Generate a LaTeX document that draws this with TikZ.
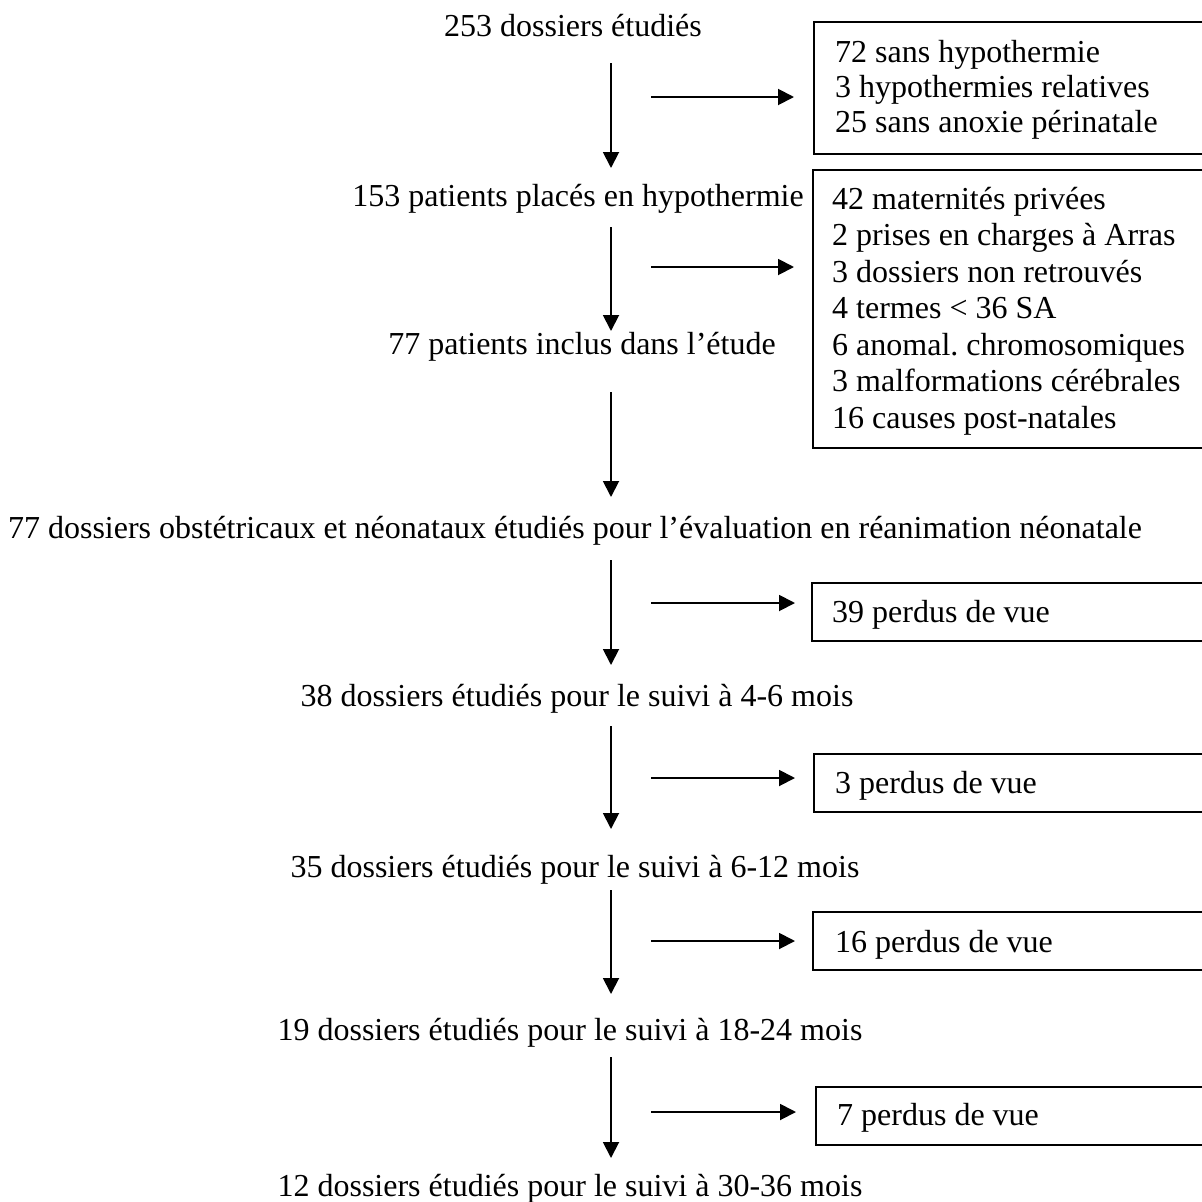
\documentclass[tikz,border=0pt]{standalone}
\usepackage{fontspec}
\setmainfont{Liberation Serif}
\usetikzlibrary{arrows.meta}
\begin{document}
\frenchspacing
\begin{tikzpicture}[x=1pt,y=-1pt,
  txt/.style={inner sep=0pt, anchor=base, font=\fontsize{32}{36.5}\selectfont},
  btxt/.style={inner sep=0pt, anchor=base west, font=\fontsize{32}{36.5}\selectfont},
  box/.style={draw, line width=1.9pt, anchor=north west, inner sep=0pt, minimum width=420pt},
  arr/.style={line width=1.9pt, -{Triangle[length=16pt,width=16pt]}}]
\useasboundingbox (0,0) rectangle (1202,1202);
% main column texts
\node[txt] (t1) at (573,36) {253 dossiers étudiés};
\node[txt] (t2) at (578,206) {153 patients placés en hypothermie};
\node[txt] (t3) at (582,354) {77 patients inclus dans l’étude};
\node[txt] (t4) at (575,538) {77 dossiers obstétricaux et néonataux étudiés pour l’évaluation en réanimation néonatale};
\node[txt] (t5) at (577,706) {38 dossiers étudiés pour le suivi à 4-6 mois};
\node[txt] (t6) at (575,877) {35 dossiers étudiés pour le suivi à 6-12 mois};
\node[txt] (t7) at (570,1040) {19 dossiers étudiés pour le suivi à 18-24 mois};
\node[txt] (t8) at (570,1196) {12 dossiers étudiés pour le suivi à 30-36 mois};
% boxes
\node[box, minimum height=132pt] (b1) at (813,21) {};
\node[box, minimum height=278pt] (b2) at (812,169) {};
\node[box, minimum height=58pt] (b3) at (811,582) {};
\node[box, minimum height=58pt] (b4) at (813,753) {};
\node[box, minimum height=58pt] (b5) at (812,911) {};
\node[box, minimum height=58pt] (b6) at (815,1086) {};
% box texts
\foreach \t [count=\i] in {72 sans hypothermie, 3 hypothermies relatives, 25 sans anoxie périnatale}
  \node[btxt] (b1l\i) at (835,{62+35*(\i-1)}) {\t};
\foreach \t [count=\i] in {42 maternités privées, 2 prises en charges à Arras, 3 dossiers non retrouvés, 4 termes < 36 SA, 6 anomal. chromosomiques, 3 malformations cérébrales, 16 causes post-natales}
  \node[btxt] (b2l\i) at (832,{209+36.5*(\i-1)}) {\t};
\node[btxt] (b3l) at (832,622) {39 perdus de vue};
\node[btxt] (b4l) at (835,793) {3 perdus de vue};
\node[btxt] (b5l) at (835,952) {16 perdus de vue};
\node[btxt] (b6l) at (837,1125) {7 perdus de vue};
% vertical arrow ends
\coordinate (v1s) at (611,63);   \coordinate (v1e) at (611,168);
\coordinate (v2s) at (611,227);  \coordinate (v2e) at (611,331);
\coordinate (v3s) at (611,392);  \coordinate (v3e) at (611,497);
\coordinate (v4s) at (611,560);  \coordinate (v4e) at (611,665);
\coordinate (v5s) at (611,726);  \coordinate (v5e) at (611,829);
\coordinate (v6s) at (611,890);  \coordinate (v6e) at (611,994);
\coordinate (v7s) at (611,1057); \coordinate (v7e) at (611,1158);
% horizontal arrow starts
\coordinate (h1) at (651,97);
\coordinate (h2) at (651,267);
\coordinate (h3) at (651,603);
\coordinate (h4) at (651,778);
\coordinate (h5) at (651,941);
\coordinate (h6) at (651,1112);
\foreach \i in {1,...,7} \draw[arr] (v\i s) -- (v\i e);
\draw[arr] (h1) -- ([xshift=-19pt]h1 -| b1.west);
\draw[arr] (h2) -- ([xshift=-18pt]h2 -| b2.west);
\draw[arr] (h3) -- ([xshift=-16pt]h3 -| b3.west);
\draw[arr] (h4) -- ([xshift=-18pt]h4 -| b4.west);
\draw[arr] (h5) -- ([xshift=-17pt]h5 -| b5.west);
\draw[arr] (h6) -- ([xshift=-19pt]h6 -| b6.west);
\end{tikzpicture}
\end{document}
